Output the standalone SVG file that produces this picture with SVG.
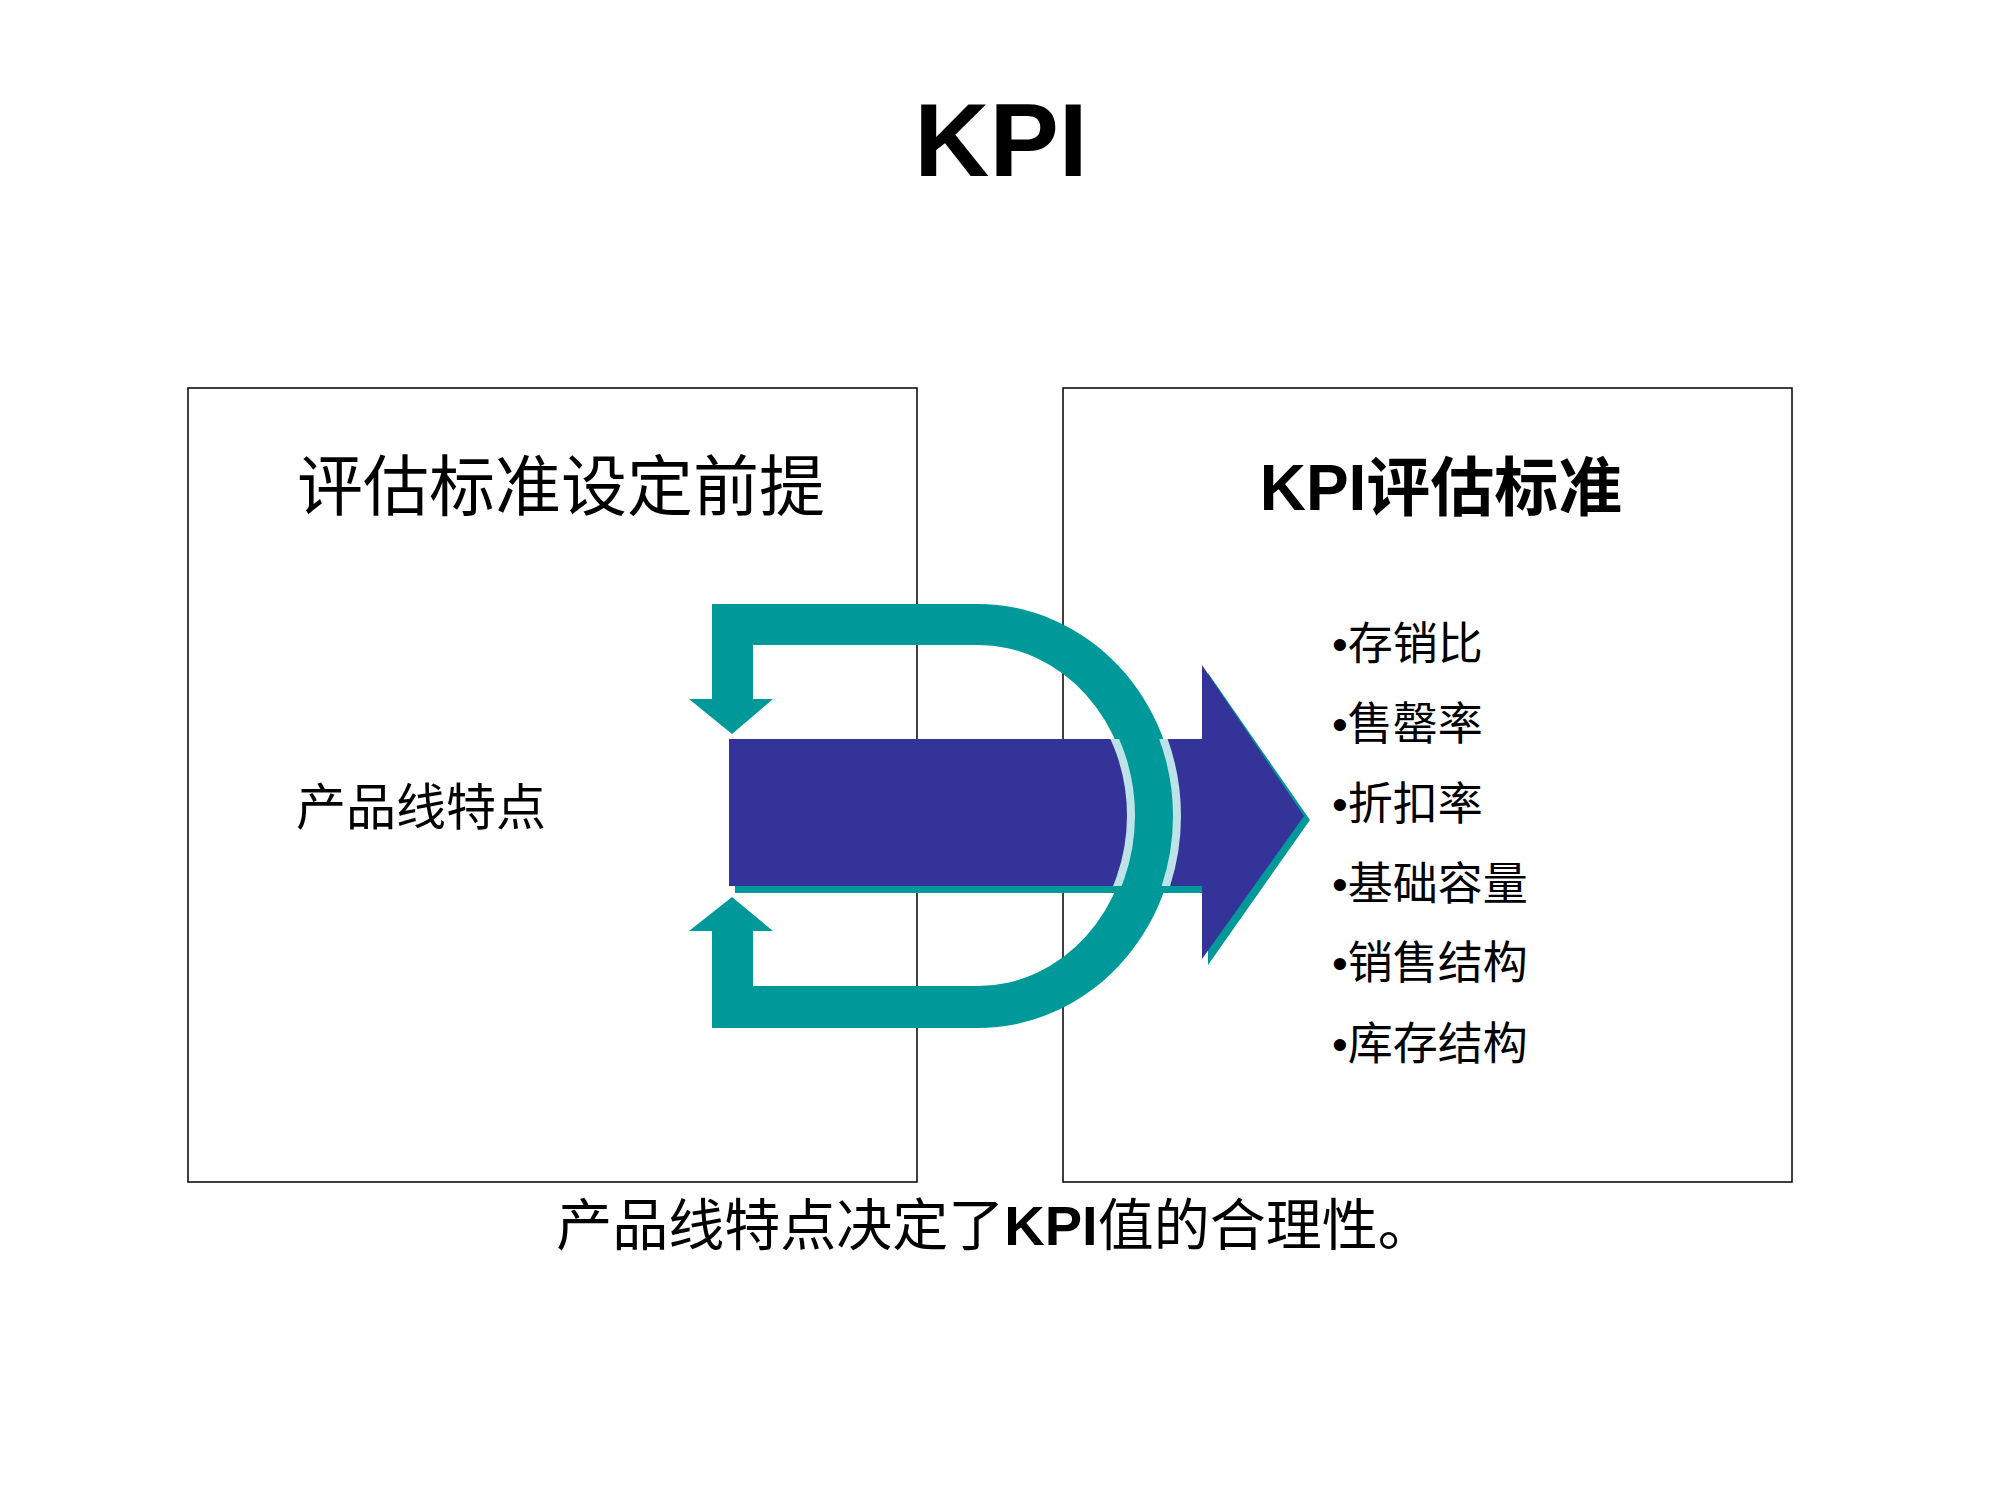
<svg xmlns="http://www.w3.org/2000/svg" width="2000" height="1500" viewBox="0 0 2000 1500">
<style>
.t{font-family:"Liberation Sans","Noto Sans CJK SC",sans-serif;fill:#000}
.box{fill:none;stroke:#000;stroke-width:1.5}
.teal{fill:#009999}
</style>
<defs><clipPath id="bar"><rect x="700" y="739" width="600" height="147"/></clipPath></defs>
<rect width="2000" height="1500" fill="#fff"/>
<text class="t" x="1001" y="176" font-size="104" font-weight="bold" text-anchor="middle">KPI</text>
<g id="left-box"><rect class="box" x="188" y="388" width="729" height="794"/>
<text class="t" x="561" y="510" font-size="66" text-anchor="middle">评估标准设定前提</text>
<text class="t" x="296" y="825" font-size="50">产品线特点</text></g>
<g id="right-box"><rect class="box" x="1063" y="388" width="729" height="794"/>
<text class="t" x="1441" y="510" font-size="64" font-weight="bold" text-anchor="middle">KPI评估标准</text>
<g font-size="45" class="t">
<text x="1332" y="660">•存销比</text><text x="1332" y="740">•售罄率</text><text x="1332" y="820">•折扣率</text>
<text x="1332" y="900">•基础容量</text><text x="1332" y="979">•销售结构</text><text x="1332" y="1060">•库存结构</text></g></g>
<g id="connectors">
<path d="M735 747 H1208 V673 L1310 820 L1208 965 V893 H735 Z" fill="#009999"/>
<path d="M729 739 H1202 V665 L1304 816 L1202 959 V886 H729 Z" fill="#333399"/>
<path class="teal" d="M712 604 H978 A199 212 0 0 1 978 1028 H712 V931 H689 L732 897 L773 931 H753 V986 H978 A153 170.5 0 0 0 978 645 H753 V699 H773 L732 734 L689 699 H712 Z"/>
<g clip-path="url(#bar)" fill="none" stroke="#bde2e8" stroke-width="8">
<path d="M978 645 A153 170.5 0 0 1 978 986"/>
<path d="M978 604 A199 212 0 0 1 978 1028"/></g>
</g>
<text class="t" x="995" y="1245" font-size="56" text-anchor="middle">产品线特点决定了<tspan font-weight="bold">KPI</tspan>值的合理性。</text>
</svg>
